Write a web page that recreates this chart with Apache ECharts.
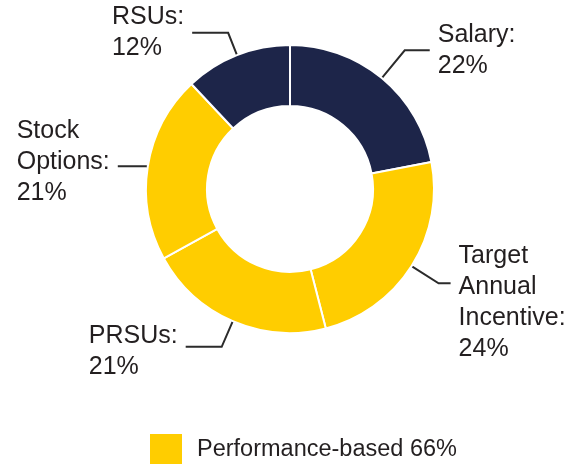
<!DOCTYPE html>
<html>
<head>
<meta charset="utf-8">
<script src="https://cdn.jsdelivr.net/npm/echarts@6/dist/echarts.min.js"></script>
<style>
  html, body { margin: 0; padding: 0; background: #fff; }
  #chart { width: 578px; height: 464px; }
</style>
</head>
<body>
<div id="chart"></div>
<script>
// 薪酬构成 环形图
var categories = ['Salary', 'Target\nAnnual\nIncentive', 'PRSUs', 'Stock\nOptions', 'RSUs']
var values = [22, 24, 21, 21, 12]
var legendName = 'Performance-based 66%'

var NAVY = '#1d2549'
var YELLOW = '#ffcd00'
var sliceColors = [NAVY, YELLOW, YELLOW, YELLOW, NAVY]
// 引导线长度 [length, length2] 及文字上下偏移
var lineLen = [[36, 25], [32, 12], [28, 36], [2, 28], [24, 36]]
var labelPad = [[0, 0, 0, 0], [38, 0, 0, 0], [10, 0, 0, 0], [0, 0, 9, 0], [0, 0, 0, 0]]

var FONT = "'Liberation Sans', Arial, sans-serif"
var TEXT = '#231f20'

var pieData = categories.map(function (name, i) {
  return {
    name: name,
    value: values[i],
    itemStyle: { color: sliceColors[i] },
    labelLine: { length: lineLen[i][0], length2: lineLen[i][1] },
    label: { padding: labelPad[i] }
  }
})

var chart = echarts.init(document.getElementById('chart'))
chart.setOption({
  animation: false,
  legend: {
    left: 145,
    top: 429,
    itemWidth: 32,
    itemHeight: 32,
    data: [{ name: legendName, icon: 'rect' }],
    textStyle: {
      fontSize: 23.5,
      color: TEXT,
      fontFamily: FONT,
      padding: [0, 0, 0, 10]
    }
  },
  series: [
    {
      type: 'pie',
      center: [290, 189],
      radius: [83, 144],
      startAngle: 90,
      avoidLabelOverlap: false,
      emphasis: { disabled: true },
      itemStyle: { borderColor: '#fff', borderWidth: 2 },
      label: {
        show: true,
        position: 'outside',
        distanceToLabelLine: 8,
        formatter: function (p) {
          var lines = p.name.split('\n')
          lines[lines.length - 1] += ':'
          lines.push(p.value + '%')
          return lines.map(function (l) { return '{t|' + l + '}' }).join('\n')
        },
        rich: {
          t: {
            fontSize: 25,
            lineHeight: 31,
            color: TEXT,
            fontFamily: FONT,
            align: 'left'
          }
        }
      },
      labelLine: {
        show: true,
        smooth: false,
        lineStyle: { color: '#2b2b2b', width: 2 }
      },
      data: pieData
    },
    {
      // 仅用于图例
      type: 'graph',
      name: legendName,
      layout: 'none',
      itemStyle: { color: YELLOW },
      data: []
    }
  ]
})
</script>
</body>
</html>
